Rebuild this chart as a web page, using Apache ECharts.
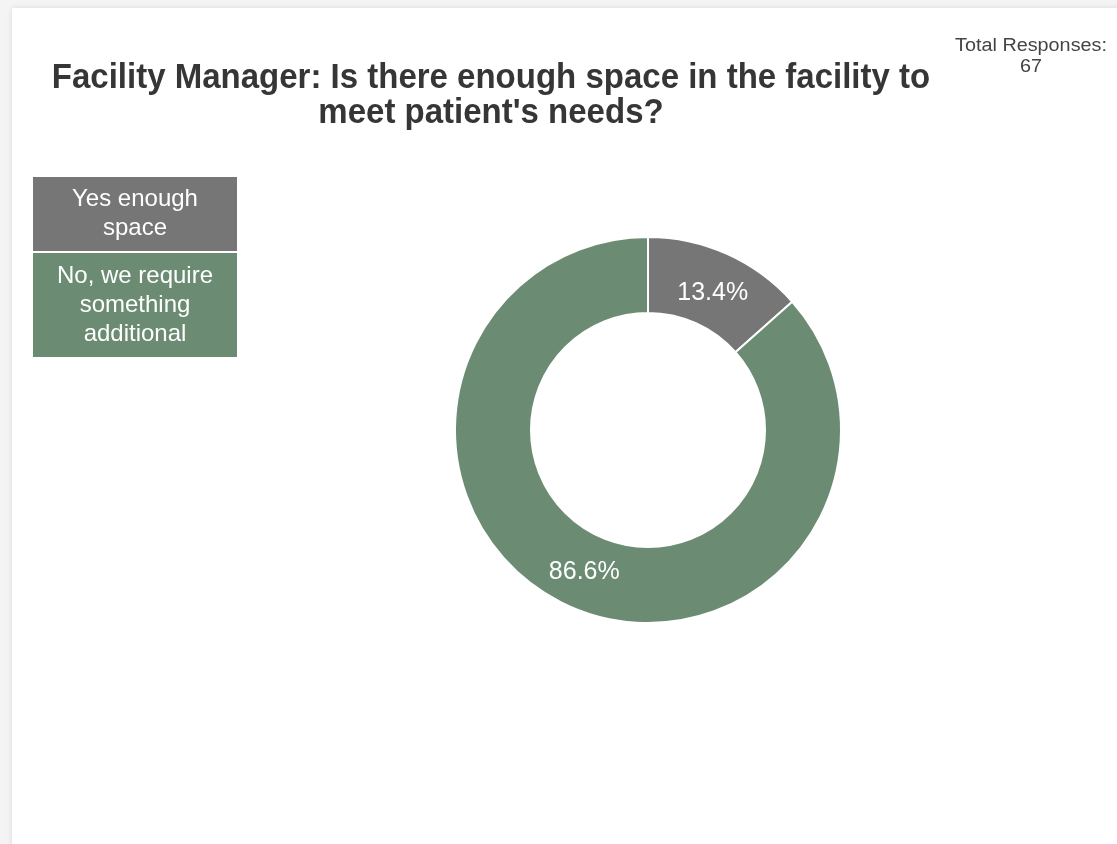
<!DOCTYPE html>
<html>
<head>
<meta charset="utf-8">
<script src="https://cdn.jsdelivr.net/npm/echarts@6/dist/echarts.min.js"></script>
<style>
  html, body { margin: 0; padding: 0; width: 1117px; height: 844px; overflow: hidden; background: #f4f4f4; }
  #card { position: absolute; left: 12px; top: 8px; width: 1117px; height: 850px; background: #ffffff; box-shadow: 0 0 6px rgba(0,0,0,0.10); }
  #chart { position: absolute; left: 0; top: 0; width: 1117px; height: 844px; }
</style>
</head>
<body>
<div id="card"></div>
<div id="chart"></div>
<script>
const titleText = "Facility Manager: Is there enough space in the facility to\nmeet patient's needs?";
const categories = ["Yes enough space", "No, we require something additional"];
const legendLabels = ["Yes enough\nspace", "No, we require\nsomething\nadditional"];
const counts = [9, 58];
const percentLabels = ["13.4%", "86.6%"];
const colors = ["#767676", "#6b8b72"];
const totalResponses = 67;

const FONT = '"Liberation Sans", Arial, Helvetica, sans-serif';
const chart = echarts.init(document.getElementById('chart'), null, { renderer: 'canvas' });

const legendBoxes = [
  { top: 177, height: 74 },
  { top: 253, height: 104 }
];
const labelOffsets = [[0, 7], [1, -2]];
const graphics = categories.map((c, i) => ({
  type: 'rect',
  left: 33, top: legendBoxes[i].top,
  shape: { width: 204, height: legendBoxes[i].height },
  style: { fill: colors[i] },
  textContent: {
    style: {
      text: legendLabels[i],
      fill: '#ffffff',
      font: '24px ' + FONT,
      lineHeight: 29,
      align: 'center'
    }
  },
  textConfig: { position: 'inside', offset: [0, 0] }
}));
graphics.push({
  type: 'text',
  x: 1031, y: 36,
  scaleX: 1.1,
  style: {
    text: 'Total Responses:\n' + totalResponses,
    x: 0, y: 0,
    fill: '#444444',
    font: '18px ' + FONT,
    lineHeight: 21,
    align: 'center',
    verticalAlign: 'top'
  }
});
graphics.push({
  type: 'text',
  x: 491, y: 61,
  scaleY: 1.06,
  style: {
    text: titleText,
    x: 0, y: 0,
    fill: '#363636',
    font: 'bold 33px ' + FONT,
    lineHeight: 33,
    align: 'center',
    verticalAlign: 'top'
  }
});

chart.setOption({
  backgroundColor: 'transparent',
  animation: false,
  graphic: graphics,
  series: [{
    type: 'pie',
    center: [648, 430],
    radius: [117, 193],
    startAngle: 90,
    clockwise: true,
    silent: true,
    itemStyle: { borderColor: '#ffffff', borderWidth: 2 },
    label: {
      show: true,
      position: 'inside',
      color: '#ffffff',
      fontFamily: FONT,
      fontSize: 25,
      formatter: p => percentLabels[p.dataIndex]
    },
    labelLine: { show: false },
    data: categories.map((c, i) => ({
      name: c, value: counts[i],
      itemStyle: { color: colors[i] },
      label: { offset: labelOffsets[i] }
    }))
  }]
});
</script>
</body>
</html>
